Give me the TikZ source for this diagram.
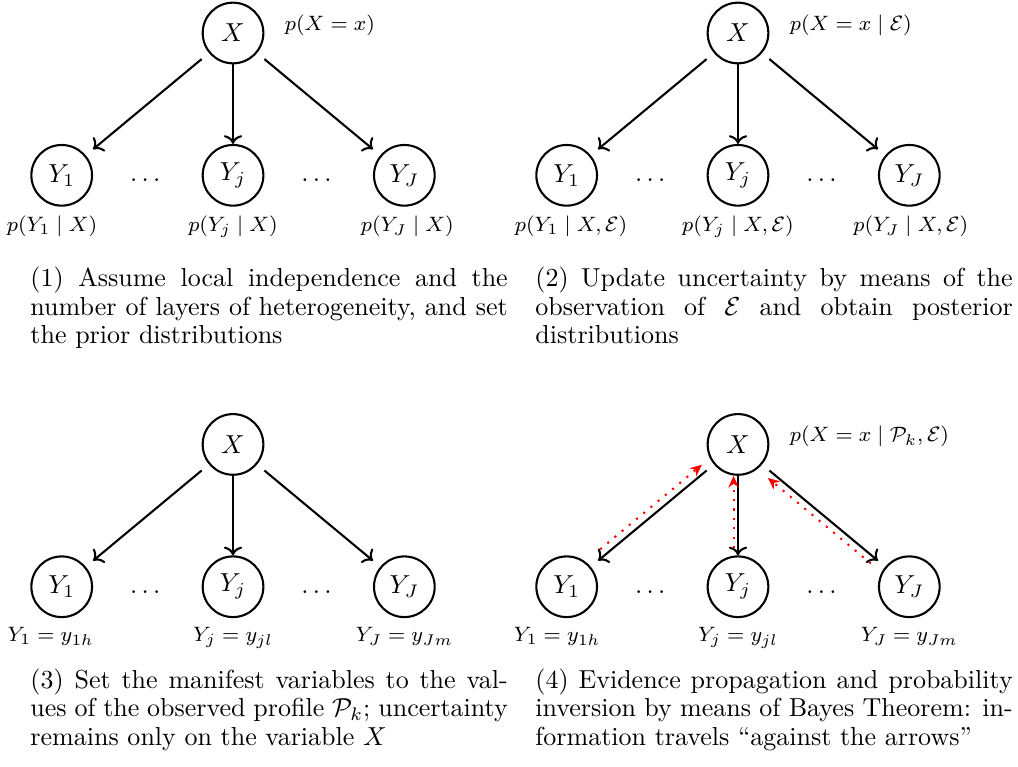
\documentclass[tikz,border=0pt]{standalone}
\usepackage{amsmath, amssymb}
\usepackage{tikz}
\usetikzlibrary{arrows.meta, positioning, calc}

\begin{document}
\begin{tikzpicture}[
    latent/.style={draw, thick, rectangle, rounded corners=0.41cm, minimum size=0.82cm, inner sep=0pt},
    arrow/.style={thick, ->},
    evidence/.style={red, thick, dash pattern=on 0.8pt off 2.8pt, -{Stealth[length=4.5pt, width=4pt]}},
    lab/.style={font=\footnotesize, inner sep=2pt},
    caption/.style={anchor=north west, text width=6.45cm, align=justify, inner sep=0pt, font=\fontsize{10}{11}\selectfont},
]
    \useasboundingbox (0,0) rectangle (13.757,-10.365);

    % The four networks
    \foreach \p/\dx/\dy in {a/0/0, b/6.824/0, c/0/-5.56, d/6.824/-5.56} {
        \begin{scope}[shift={(\dx,\dy)}]
            \node[latent] (x\p) at (3.149,-0.446) {$X$};
            \node[latent, below=1.075cm of x\p] (yj\p) {$Y_j$};
            \node[latent, left=1.467cm of yj\p] (y1\p) {$Y_1$};
            \node[latent, right=1.467cm of yj\p] (yJ\p) {$Y_J$};
            \node[yshift=-2pt] (dl\p) at ($(y1\p)!0.5!(yj\p)$) {$\dots$};
            \node[yshift=-2pt] (dr\p) at ($(yj\p)!0.5!(yJ\p)$) {$\dots$};

            \draw[arrow] (x\p) -- (y1\p);
            \draw[arrow] (x\p) -- (yj\p);
            \draw[arrow] (x\p) -- (yJ\p);
        \end{scope}
    }

    % (1) prior
    \node[lab, right=0.2cm of xa, yshift=3pt] (pxa) {$p(X=x)$};
    \node[lab, below=0.05cm of y1a, xshift=-0.13cm] (py1a) {$p(Y_1\mid X)$};
    \node[lab, below=0.05cm of yja] (pyja) {$p(Y_j\mid X)$};
    \node[lab, below=0.05cm of yJa, xshift=0.04cm] (pyJa) {$p(Y_J\mid X)$};

    % (2) posterior
    \node[lab, right=0.2cm of xb, yshift=3pt] (pxb) {$p(X=x\mid\mathcal{E})$};
    \node[lab, below=0.05cm of y1b, xshift=0.06cm] (py1b) {$p(Y_1\mid X,\mathcal{E})$};
    \node[lab, below=0.05cm of yjb] (pyjb) {$p(Y_j\mid X,\mathcal{E})$};
    \node[lab, below=0.05cm of yJb, xshift=0.02cm] (pyJb) {$p(Y_J\mid X,\mathcal{E})$};

    % (3) observed profile
    \node[lab, below=0.05cm of y1c, xshift=-0.15cm] (py1c) {$Y_1=y_{1h}$};
    \node[lab, below=0.05cm of yjc] (pyjc) {$Y_j=y_{jl}$};
    \node[lab, below=0.05cm of yJc] (pyJc) {$Y_J=y_{Jm}$};

    % (4) evidence propagation
    \node[lab, right=0.2cm of xd, yshift=3pt] (pxd) {$p(X=x\mid\mathcal{P}_k,\mathcal{E})$};
    \node[lab, below=0.05cm of y1d, xshift=-0.13cm] (py1d) {$Y_1=y_{1h}$};
    \node[lab, below=0.05cm of yjd] (pyjd) {$Y_j=y_{jl}$};
    \node[lab, below=0.05cm of yJd] (pyJd) {$Y_J=y_{Jm}$};
    \draw[evidence, shorten <=0.12cm, transform canvas={shift={(-0.064,0.077)}}] (y1d) -- (xd);
    \draw[evidence, shorten <=0.1cm, transform canvas={xshift=-0.06cm}] (yjd) -- (xd);
    \draw[evidence, shorten <=0.05cm, shorten >=0.05cm, transform canvas={shift={(-0.058,-0.069)}}] (yJd) -- (xd);

    % Captions
    \node[caption] (capa) at (0.405,-3.601) {(1) Assume local independence and the number of layers of heterogeneity, and set the prior distributions};
    \node[caption] (capb) at (7.229,-3.601) {(2) Update uncertainty by means of the observation of $\mathcal{E}$ and obtain posterior \mbox{distributions}};
    \node[caption] (capc) at (0.405,-9.03) {(3) Set the manifest variables to the values of the observed profile $\mathcal{P}_k$; uncertainty remains only on the variable $X$};
    \node[caption] (capd) at (7.229,-9.03) {(4) Evidence propagation and probability inversion by means of Bayes Theorem: information travels ``against the arrows''};
\end{tikzpicture}
\end{document}
